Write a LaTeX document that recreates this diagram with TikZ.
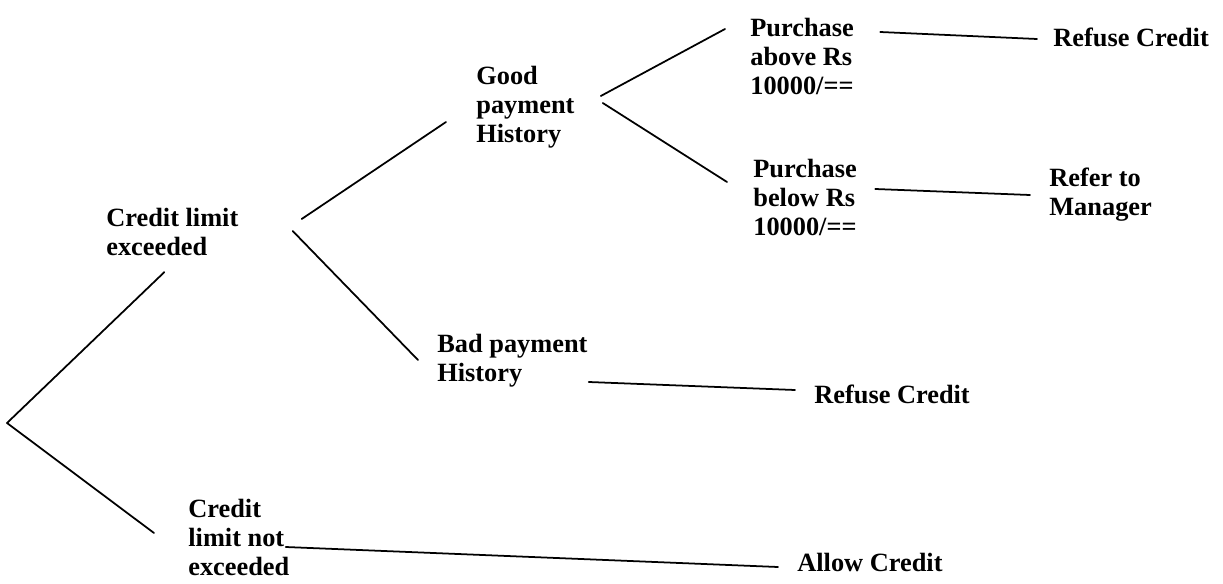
\documentclass[tikz,border=0pt]{standalone}
\usepackage{fontspec}
\setmainfont{Liberation Serif}

\begin{document}
\begin{tikzpicture}[x=0.02cm, y=-0.02cm]
		\tikzstyle{Choice} = [inner sep=0pt, anchor=west, align=left, font=\bfseries\fontsize{15}{16.5}\selectfont]
		\tikzstyle{Branch} = [line width=1pt, line cap=round]
		
		\useasboundingbox (0,0) rectangle (1223,584);
		
		\coordinate (root) at (7,423);
		\node (exceeded) [Choice] at (106,232) {Credit limit\\exceeded};
		\node (notexceeded) [Choice] at (188,537) {Credit\\limit not\\exceeded};
		\node (good) [Choice] at (476,107) {Good\\payment\\History};
		\node (bad) [Choice] at (437,361) {Bad payment\\History};
		\node (above) [Choice] at (750,56) {Purchase\\above Rs\\10000/==};
		\node (below) [Choice] at (753,197) {Purchase\\below Rs\\10000/==};
		\node (refuse1) [Choice] at (1053,37) {Refuse Credit};
		\node (manager) [Choice] at (1049,195) {Refer to\\Manager};
		\node (refuse2) [Choice] at (814,394) {Refuse Credit};
		\node (allow) [Choice] at (797,562) {Allow Credit};
		
		% first split
		\draw [Branch] (root) -- ([shift={(-8,16)}]exceeded.south);
		\draw [Branch] (root) -- ([shift={(-34,-4)}]notexceeded.west);
		% payment history
		\draw [Branch] ([shift={(63,-13)}]exceeded.east) -- ([shift={(-30,15)}]good.west);
		\draw [Branch] ([shift={(54,-1)}]exceeded.east) -- ([shift={(-19,-1)}]bad.west);
		% purchase amount
		\draw [Branch] ([shift={(26,-11)}]good.east) -- ([shift={(-25,-27)}]above.west);
		\draw [Branch] ([shift={(28,-4)}]good.east) -- ([shift={(-26,-15)}]below.west);
		% outcomes
		\draw [Branch] ([shift={(26,-24)}]above.east) -- ([shift={(-16,2)}]refuse1.west);
		\draw [Branch] ([shift={(18,-8)}]below.east) -- ([shift={(-19,0)}]manager.west);
		\draw [Branch] ([shift={(1,21)}]bad.east) -- ([shift={(-19,-4)}]refuse2.west);
		\draw [Branch] ([shift={(-4,10)}]notexceeded.east) -- ([shift={(-19,5)}]allow.west);
\end{tikzpicture}
\end{document}
